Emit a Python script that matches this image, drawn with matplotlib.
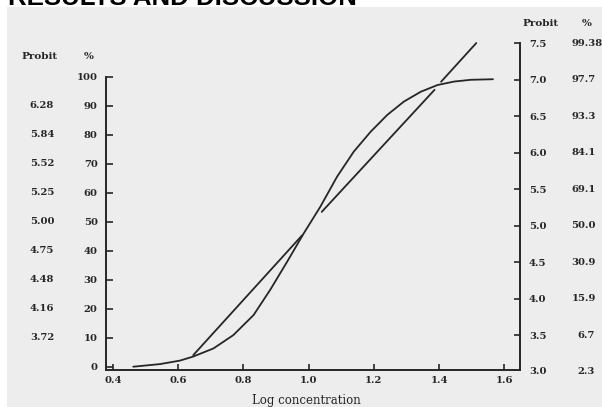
import numpy as np
import matplotlib
matplotlib.use("Agg")
import matplotlib.pyplot as plt
from matplotlib.patches import Rectangle
from matplotlib import transforms

# Curva sigmoide: % de respuesta frente a log concentracion (eje izquierdo)
curva_x = [0.462, 0.544, 0.605, 0.646, 0.708, 0.769, 0.831, 0.882, 0.934, 0.985,
           1.036, 1.087, 1.138, 1.190, 1.241, 1.292, 1.344, 1.395, 1.446, 1.497,
           1.565]
curva_pct = [0.1, 1.0, 2.2, 3.6, 6.4, 11.0, 17.9, 26.6, 36.3, 46.1,
             55.3, 65.6, 74.2, 81.1, 86.9, 91.5, 94.9, 97.2, 98.4, 99.0,
             99.2]

# Recta probit, dibujada en tres tramos (eje derecho)
recta_x = [[0.646, 0.980], [1.040, 1.386], [1.406, 1.514]]
recta_probit = [[3.23, 4.87], [5.19, 6.86], [6.97, 7.50]]

# Ejes y etiquetas
x_ticks = [0.4, 0.6, 0.8, 1.0, 1.2, 1.4, 1.6]
pct_ticks = [0, 10, 20, 30, 40, 50, 60, 70, 80, 90, 100]
probit_izq = ["", "3.72", "4.16", "4.48", "4.75", "5.00", "5.25", "5.52", "5.84", "6.28", ""]
probit_ticks = [3.0, 3.5, 4.0, 4.5, 5.0, 5.5, 6.0, 6.5, 7.0, 7.5]
pct_der = ["2.3", "6.7", "15.9", "30.9", "50.0", "69.1", "84.1", "93.3", "97.7", "99.38"]

W, H = 602, 407
tinta = "#262626"
fuente = "DejaVu Serif"

fig = plt.figure(figsize=(W / 100, H / 100), dpi=100)
fig.patch.set_facecolor("white")
# fondo gris del escaneo
fig.add_artist(Rectangle((7 / W, 0), 1, 1 - 7 / H, transform=fig.transFigure,
                         facecolor="#ededed", edgecolor="none", zorder=0))
fig.text(8 / W, 1 - 5 / H, "RESULTS AND DISCUSSION", fontsize=18.6, fontweight="bold",
         family="Liberation Sans", color="black", ha="left", va="baseline")

ax = fig.add_axes([106 / W, (H - 369.5) / H, 414 / W, 333.5 / H])
ax.set_facecolor("none")
ax.set_xlim(0.3785, 1.648)
ax.set_ylim(-0.862, 114.1)

ax2 = ax.twinx()
ax2.set_ylim(3.034, 7.596)

ax.plot(curva_x, curva_pct, color=tinta, lw=1.3, solid_capstyle="round")
for xs, ys in zip(recta_x, recta_probit):
    ax2.plot(xs, ys, color=tinta, lw=1.3, solid_capstyle="round")

for s in ["top", "right"]:
    ax.spines[s].set_visible(False)
for s in ["top", "left", "bottom"]:
    ax2.spines[s].set_visible(False)
ax.spines["left"].set_bounds(-0.862, 100)
ax2.spines["right"].set_bounds(3.034, 7.5)
for sp in [ax.spines["left"], ax.spines["bottom"], ax2.spines["right"]]:
    sp.set_linewidth(1.4)
    sp.set_color(tinta)

ax.set_xticks(x_ticks)
ax.set_xticklabels([f"{v:.1f}" for v in x_ticks])
ax.set_yticks(pct_ticks)
ax.set_yticklabels([str(v) for v in pct_ticks])
ax2.set_yticks(probit_ticks[1:])
ax2.set_yticklabels([f"{v:.1f}" for v in probit_ticks[1:]])

ax.tick_params(axis="x", direction="in", length=4, width=1.2, pad=5, color=tinta)
ax.tick_params(axis="y", direction="in", length=5, width=1.2, pad=6, color=tinta)
ax2.tick_params(axis="y", direction="in", length=4.5, width=1.2, pad=6.5, color=tinta)
for lab in ax.get_xticklabels() + ax.get_yticklabels() + ax2.get_yticklabels():
    lab.set_family(fuente)
    lab.set_fontweight("bold")
    lab.set_fontsize(7.2)
    lab.set_color(tinta)

ax.set_xlabel("Log concentration", family=fuente, fontsize=8.5, color=tinta)
ax.xaxis.set_label_coords(0.484, -0.074)

tabla = dict(family=fuente, fontweight="bold", fontsize=7.2, color=tinta, clip_on=False)

# etiqueta 3.0 del eje derecho (queda justo bajo el limite inferior)
trans_der = transforms.blended_transform_factory(fig.transFigure, ax2.transData)
ax2.text(529 / W, probit_ticks[0], f"{probit_ticks[0]:.1f}", transform=trans_der,
         ha="left", va="center", **tabla)

# columna probit a la izquierda
trans_izq = transforms.blended_transform_factory(fig.transFigure, ax.transData)
for v, t in zip(pct_ticks, probit_izq):
    if t:
        ax.text(42 / W, v, t, transform=trans_izq, ha="center", va="center", **tabla)

# columna % a la derecha, alineada en el punto decimal
for v, t in zip(probit_ticks, pct_der):
    n = len(t.split(".")[0])
    ax2.text((584 - 6.3 * n) / W, v, t, transform=trans_der, ha="left", va="center", **tabla)

# cabeceras
cab = dict(family=fuente, fontweight="bold", fontsize=7.5, color=tinta, ha="center", va="center")
fig.text(40 / W, 1 - 56.5 / H, "Probit", **cab)
fig.text(88.5 / W, 1 - 56.5 / H, "%", **cab)
fig.text(541 / W, 1 - 24 / H, "Probit", **cab)
fig.text(587 / W, 1 - 24 / H, "%", **cab)

fig.savefig("out.png", dpi=100, facecolor=fig.get_facecolor())
